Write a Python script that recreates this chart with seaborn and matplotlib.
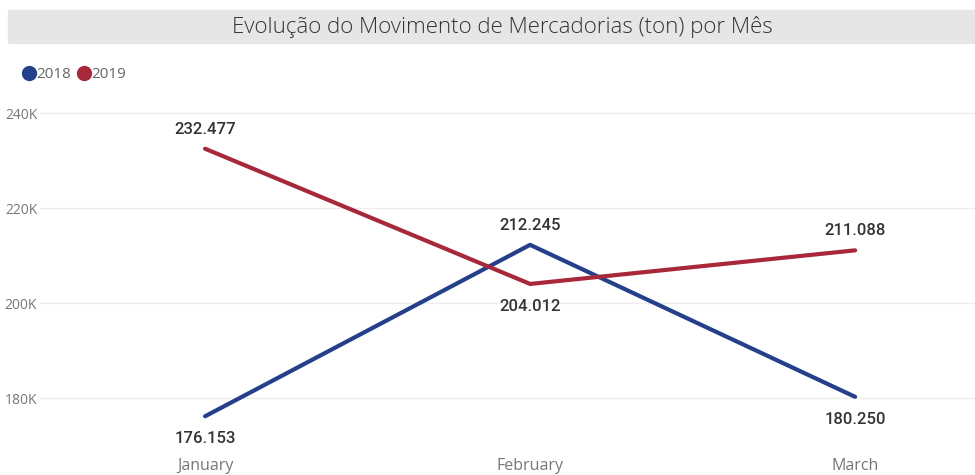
import pandas as pd
import matplotlib.pyplot as plt
import seaborn as sns
from matplotlib.lines import Line2D
from matplotlib.patches import Rectangle

# data
months = ["January", "February", "March"]
years = ["2018", "2019"]
values_2018 = [176153, 212245, 180250]
values_2019 = [232477, 204012, 211088]
value_labels_2018 = ["176.153", "212.245", "180.250"]
value_labels_2019 = ["232.477", "204.012", "211.088"]
yticks = [180000, 200000, 220000, 240000]
ytick_labels = ["180K", "200K", "220K", "240K"]

colors = {"2018": "#243f8c", "2019": "#a8283a"}

df = pd.DataFrame({
    "month": months * 2,
    "pos": [0, 1, 2] * 2,
    "year": ["2018"] * 3 + ["2019"] * 3,
    "value": values_2018 + values_2019,
})

sns.set_theme(style="white")
plt.rcParams["font.family"] = ["Open Sans", "DejaVu Sans"]

fig = plt.figure(figsize=(9.75, 4.75), dpi=100)
ax = fig.add_axes([40 / 975, 1 - 440 / 475, 935 / 975, 340 / 475])

sns.lineplot(data=df, x="pos", y="value", hue="year", palette=colors,
             linewidth=3, ax=ax, legend=False, solid_capstyle="round")

ax.set_xlim(-0.508, 2.369)
ax.set_ylim(171158, 242737)
ax.set_yticks(yticks)
ax.set_yticklabels(ytick_labels)
ax.set_xticks([0, 1, 2])
ax.set_xticklabels(months)
ax.set_xlabel("")
ax.set_ylabel("")
ax.grid(axis="y", color="#ececec", linewidth=1)
ax.set_axisbelow(True)
for s in ax.spines.values():
    s.set_visible(False)
ax.tick_params(axis="y", length=0, pad=2, labelsize=10, labelcolor="#777777")
ax.tick_params(axis="x", length=0, pad=13, labelsize=11.5, labelcolor="#777777")
for t in ax.get_yticklabels():
    t.set_horizontalalignment("right")

# data labels: which above / below
above_2018 = [False, True, False]
above_2019 = [True, False, True]
for vals, labs, above in [(values_2018, value_labels_2018, above_2018),
                          (values_2019, value_labels_2019, above_2019)]:
    for i, (v, lab, up) in enumerate(zip(vals, labs, above)):
        ax.annotate(lab, (i, v), xytext=(0, 14 if up else -16),
                    textcoords="offset points", ha="center", va="center",
                    fontsize=12, color="#333333", family=["Roboto", "DejaVu Sans"],
                    fontweight="medium")

# title bar
fig.patches.append(Rectangle((8 / 975, 1 - 43 / 475), 1, 33 / 475,
                             transform=fig.transFigure, color="#e6e6e6", zorder=0))
fig.text(502 / 975, 1 - 27 / 475, "Evolução do Movimento de Mercadorias (ton) por Mês",
         ha="center", va="center", fontsize=16, color="#333333", fontweight="light")

# legend
handles = [Line2D([], [], marker="o", linestyle="", markersize=10,
                  color=colors[y]) for y in years]
fig.legend(handles, years, loc="center left", bbox_to_anchor=(6 / 975, 1 - 75 / 475),
           ncol=2, frameon=False, handletextpad=-0.1, columnspacing=0.2,
           handlelength=1.2, fontsize=11, labelcolor="#666666")

fig.savefig("out.png", dpi=100)
